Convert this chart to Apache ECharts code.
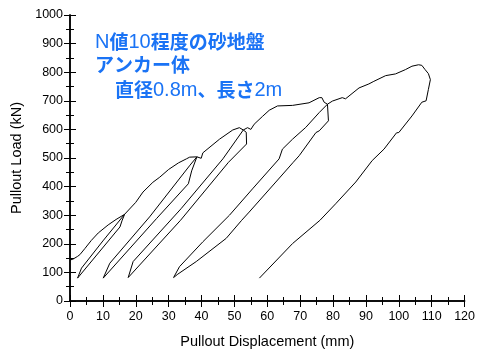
<!DOCTYPE html>
<html><head><meta charset="utf-8">
<script src="https://cdn.jsdelivr.net/npm/echarts@6/dist/echarts.min.js"></script>
<style>html,body{margin:0;padding:0;background:#fff}#c{width:478px;height:354px}</style>
</head><body><div id="c"></div>
<script>
// Pullout displacement (mm) and load (kN), traced in drawing order
const disp = [
 0,1,2.3,3,4.5,6.5,8.6,11.6,14,16.6,
 15.8,15.2,2.3,
 3.5,10,16.6,
 20,22.2,25.2,27.3,30,33,35.4,36.4,38.6,
 37,36,26.3,26.6,25.8,10.1,
 12.1,24.2,24.0,24.6,36.5,38.6,
 39.9,40.4,45.5,49.5,51.5,52.7,
 53.6,53.7,48.2,48.5,47.8,33.6,33.9,33.2,17.7,
 19.2,33.8,33.6,34.2,46.5,46.3,46.9,52.7,
 54,55,56,58.5,60.6,63.1,67.7,72.7,75.8,76.6,77.3,78.3,
 78.6,75.8,74.8,75.1,74.4,69.7,67.9,68.2,67.4,62.6,54.5,52.2,52.5,51.8,47.5,38.4,32.8,31.5,
 33.3,40.4,48.5,48.3,48.9,55.5,63.6,64.6,67.7,71.7,71.5,72.1,75.8,78.3,
 79.8,82.8,83.8,84.3,87.9,90.9,92.4,96,99,102,104,106,107,108,109,
 109.6,109,108.3,107,106.6,104,100,99.6,99.3,95.5,91.9,92.2,91.5,86.9,80.8,76,76.3,75.6,67.7,57.6
];
const load = [
 143,147,156,162,183,212,238,266,285,303,
 280,259,80,
 115,210,303,
 345,381,415,433,460,483,497,503,504,
 455,410,288,284,282,80,
 132,294,290,292,475,504,
 499,518,566,598,606,598,
 590,549,485,490,485,282,286,280,82,
 138,323,318,320,497,492,494,598,
 606,600,618,645,667,682,684,693,711,711,695,688,
 630,595,589,594,592,508,485,490,484,416,311,282,286,280,219,138,94,82,
 120,207,300,296,298,392,497,531,566,607,602,604,659,688,
 699,711,707,709,745,759,768,788,794,809,821,826,824,809,795,
 774,740,700,695,690,647,589,594,588,531,491,495,489,416,340,282,286,280,201,80
];
const xTicks = {min:0, max:120, interval:10};
const yTicks = {min:0, max:1000, interval:100};

const pts = disp.map((x,i)=>[x, load[i]]);
const chart = echarts.init(document.getElementById('c'), null, {renderer:'canvas'});
const lbl = {color:'#000', fontFamily:'Liberation Sans, Arial', fontSize:12.5, formatter:v=>String(v)};
const axLine = {show:true, lineStyle:{color:'#000', width:1.5}};
const tick = {show:true, inside:true, length:6, lineStyle:{color:'#000', width:1}};
const minor = {show:true, splitNumber:2, length:4, lineStyle:{color:'#000', width:1}};
const nameStyle = {color:'#000', fontFamily:'Liberation Sans, Arial', fontSize:14.5};
chart.setOption({
  animation:false,
  grid:{left:70, right:12, top:15, bottom:51},
  xAxis:[
    {type:'value', min:xTicks.min, max:xTicks.max, interval:xTicks.interval, position:'bottom',
     axisLine:axLine, axisTick:tick, minorTick:minor, splitLine:{show:false},
     axisLabel:Object.assign({margin:9}, lbl),
     name:'Pullout Displacement (mm)', nameLocation:'middle', nameGap:33, nameTextStyle:nameStyle},
    {type:'value', min:xTicks.min, max:xTicks.max, interval:xTicks.interval, position:'top',
     axisLine:axLine, axisTick:tick, minorTick:minor, splitLine:{show:false}, axisLabel:{show:false}}
  ],
  yAxis:[
    {type:'value', min:yTicks.min, max:yTicks.max, interval:yTicks.interval, position:'left',
     axisLine:axLine, axisTick:tick, minorTick:minor, splitLine:{show:false},
     axisLabel:Object.assign({margin:7}, lbl),
     name:'Pullout Load (kN)', nameLocation:'middle', nameGap:44, nameTextStyle:nameStyle},
    {type:'value', min:yTicks.min, max:yTicks.max, interval:yTicks.interval, position:'right',
     axisLine:axLine, axisTick:tick, minorTick:minor, splitLine:{show:false}, axisLabel:{show:false}}
  ],
  series:[{type:'line', data:pts, showSymbol:false, symbol:'none', smooth:false,
    lineStyle:{color:'#000', width:1}, xAxisIndex:0, yAxisIndex:0}],
  graphic:[
    {type:'text', left:95, top:32, style:{text:'{a|N}{b|値}{a|10}{b|程度の砂地盤}',
      rich:{a:{fontFamily:'Liberation Sans, Arial', fontSize:20, fill:'#1a73f5'},
            b:{fontFamily:'Noto Sans CJK JP', fontSize:19, fontWeight:'bold', fill:'#1a73f5'}}}},
    {type:'text', left:95, top:55, style:{text:'{b|アンカー体}',
      rich:{b:{fontFamily:'Noto Sans CJK JP', fontSize:19, fontWeight:'bold', fill:'#1a73f5'}}}},
    {type:'text', left:115, top:80, style:{text:'{b|直径}{a|0.8m}{b|、長さ}{a|2m}',
      rich:{a:{fontFamily:'Liberation Sans, Arial', fontSize:20, fill:'#1a73f5'},
            b:{fontFamily:'Noto Sans CJK JP', fontSize:19, fontWeight:'bold', fill:'#1a73f5'}}}}
  ]
});
</script></body></html>
